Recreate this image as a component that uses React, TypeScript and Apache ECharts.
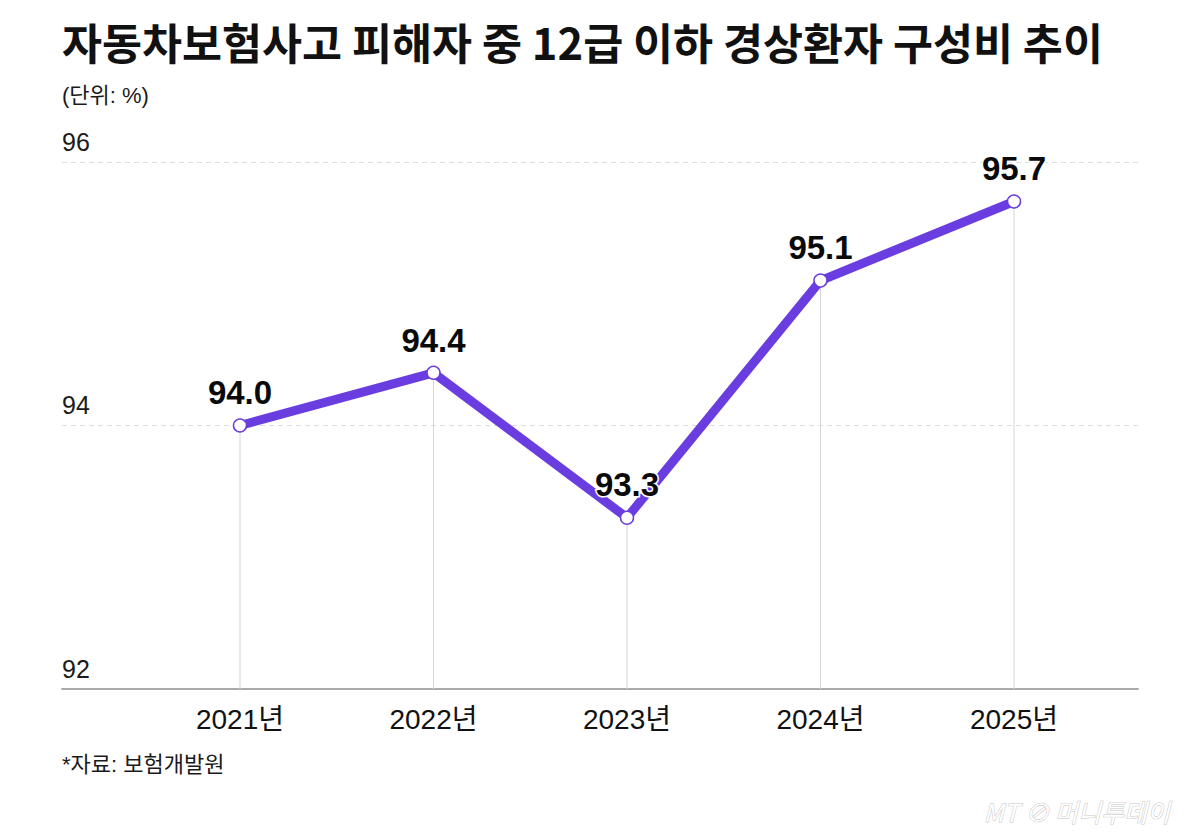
import React, { useEffect, useRef } from "react";
import * as echarts from "echarts";

const years = ["2021년", "2022년", "2023년", "2024년", "2025년"];
const shares = [94.0, 94.4, 93.3, 95.1, 95.7];
const yMin = 92;
const yMax = 96;
const yStep = 2;

const titleText = "자동차보험사고 피해자 중 12급 이하 경상환자 구성비 추이";
const unitText = "(단위: %)";
const sourceText = "*자료: 보험개발원";

const LATIN = "'Liberation Sans', 'Noto Sans CJK KR', sans-serif";
const KR = "'Noto Sans CJK KR', 'Noto Sans', sans-serif";
const PURPLE = "#6a3de0";

export default function App() {
  const ref = useRef<HTMLDivElement>(null);
  useEffect(() => {
    document.body.style.margin = "0";
    const chart = echarts.init(ref.current!, undefined, { renderer: "svg" });
    chart.setOption({
      animation: false,
      backgroundColor: "#ffffff",
      title: [
        {
          text: titleText,
          left: 57,
          top: 15,
          textStyle: { fontFamily: KR, fontSize: 43.5, fontWeight: "bold", color: "#111" },
        },
        {
          text: unitText,
          left: 57,
          top: 79,
          textStyle: { fontFamily: LATIN, fontSize: 22, fontWeight: "normal", color: "#1a1a1a" },
        },
      ],
      grid: [
        { left: 62, right: 62, top: 162, bottom: 145 },
        { left: 143.25, right: 89.25, top: 162, bottom: 145 },
      ],
      xAxis: [
        {
          gridIndex: 0,
          type: "value",
          min: 0,
          max: 1,
          axisLine: { show: true, onZero: false, lineStyle: { color: "#aaaaaa", width: 2 } },
          axisTick: { show: false },
          axisLabel: { show: false },
          splitLine: { show: false },
        },
        {
          gridIndex: 1,
          type: "category",
          data: years,
          axisLine: { show: false },
          axisTick: { show: false },
          axisLabel: { fontFamily: LATIN, fontSize: 28, color: "#111", margin: 16 },
          splitLine: { show: false },
        },
      ],
      yAxis: [
        {
          gridIndex: 0,
          type: "value",
          min: yMin,
          max: yMax,
          interval: yStep,
          axisLine: { show: false },
          axisTick: { show: false },
          axisLabel: {
            inside: true,
            margin: 0,
            align: "left",
            verticalAlign: "bottom",
            padding: [0, 0, 8, 0],
            fontFamily: LATIN,
            fontSize: 25,
            color: "#1a1a1a",
          },
          splitLine: { show: true, lineStyle: { color: "#dddddd", type: [5, 4], width: 1 } },
        },
        {
          gridIndex: 1,
          type: "value",
          min: yMin,
          max: yMax,
          interval: yStep,
          show: false,
          splitLine: { show: false },
        },
      ],
      series: [
        {
          type: "bar",
          xAxisIndex: 1,
          yAxisIndex: 1,
          data: shares,
          barWidth: 1,
          silent: true,
          itemStyle: { color: "#d6d6d6" },
          z: 1,
        },
        {
          type: "line",
          xAxisIndex: 1,
          yAxisIndex: 1,
          data: shares,
          symbol: "circle",
          symbolSize: 13,
          lineStyle: { color: PURPLE, width: 9 },
          itemStyle: { color: "#ffffff", borderColor: PURPLE, borderWidth: 1.5 },
          label: {
            show: true,
            position: "top",
            distance: 9,
            formatter: (p: any) => Number(p.value).toFixed(1),
            fontFamily: LATIN,
            fontSize: 33,
            fontWeight: "bold",
            color: "#0a0a0a",
            textBorderColor: "#ffffff",
            textBorderWidth: 3,
          },
          z: 3,
        },
      ],
      graphic: [
        {
          type: "text",
          left: 62,
          top: 753,
          style: { text: sourceText, font: `22px ${LATIN}`, fill: "#1a1a1a" },
        },
        {
          type: "text",
          left: 983,
          top: 798,
          style: {
            text: "MT ⊘ 머니투데이",
            font: `italic 25px ${KR}`,
            fill: "#ffffff",
            stroke: "#c4c4c4",
            lineWidth: 1,
          },
        },
      ],
    });
    return () => chart.dispose();
  }, []);
  return (
    <div
      ref={ref}
      style={{ position: "fixed", left: 0, top: 0, width: 1200, height: 834 }}
    />
  );
}
